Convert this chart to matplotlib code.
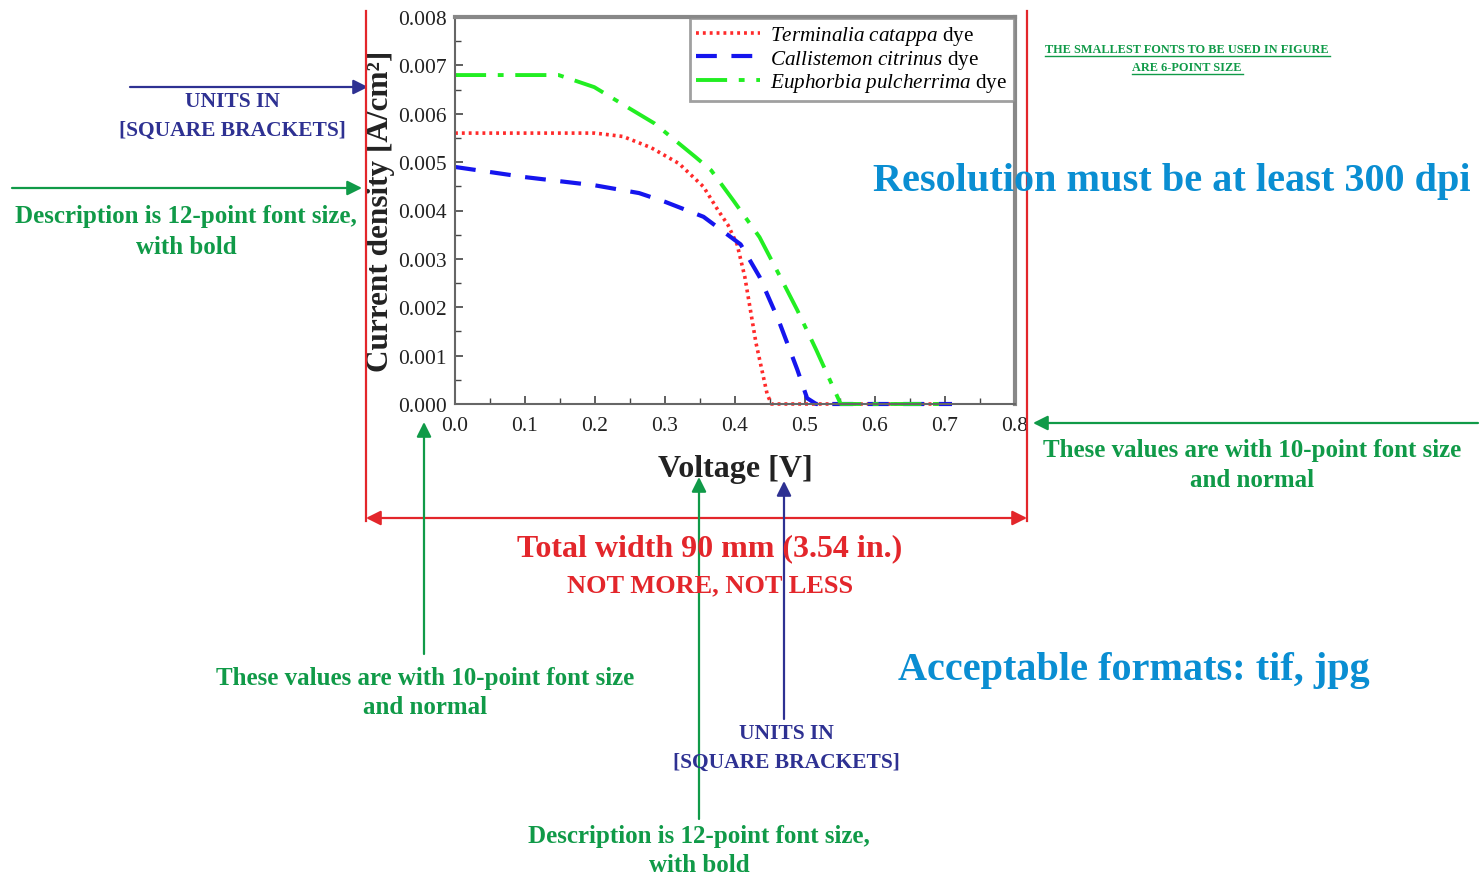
import matplotlib
matplotlib.use('Agg')
import matplotlib.pyplot as plt
from matplotlib.patches import FancyArrowPatch
from matplotlib.lines import Line2D

plt.rcParams['font.family'] = ['Liberation Serif', 'DejaVu Serif']
plt.rcParams['mathtext.fontset'] = 'custom'
plt.rcParams['mathtext.rm'] = 'Liberation Serif'
plt.rcParams['mathtext.it'] = 'Liberation Serif:italic'
plt.rcParams['mathtext.bf'] = 'Liberation Serif:bold'

# J-V curves
v_terminalia = [0.0, 0.05, 0.10, 0.15, 0.20, 0.24, 0.28, 0.32, 0.355, 0.376, 0.39, 0.403, 0.414, 0.43, 0.446, 0.452, 0.55, 0.70]
j_terminalia = [0.0056, 0.0056, 0.0056, 0.0056, 0.0056, 0.00553, 0.0053, 0.00497, 0.00449, 0.0040, 0.0037, 0.0033, 0.00263, 0.00126, 0.0002, 0.0, 0.0, 0.0]

v_callistemon = [0.0, 0.10, 0.20, 0.263, 0.30, 0.355, 0.408, 0.435, 0.462, 0.489, 0.503, 0.516, 0.60, 0.71]
j_callistemon = [0.0049, 0.00469, 0.00452, 0.00436, 0.00418, 0.00387, 0.0033, 0.00263, 0.00174, 0.00071, 0.00012, 0.0, 0.0, 0.0]

v_euphorbia = [0.0, 0.05, 0.10, 0.148, 0.199, 0.247, 0.285, 0.344, 0.366, 0.398, 0.435, 0.462, 0.489, 0.516, 0.551, 0.60, 0.70]
j_euphorbia = [0.0068, 0.0068, 0.0068, 0.0068, 0.00655, 0.00613, 0.0058, 0.0051, 0.00483, 0.0042, 0.00345, 0.0027, 0.00194, 0.00112, 0.0, 0.0, 0.0]

labels = [r'$\it{Terminalia\ catappa}$ dye',
          r'$\it{Callistemon\ citrinus}$ dye',
          r'$\it{Euphorbia\ pulcherrima}$ dye']

W, H = 1484, 879
fig = plt.figure(figsize=(W / 100, H / 100), dpi=100)

def px(x, y):
    return (x / W, 1 - y / H)

# axes box: x 455..1015, y 18..405 (pixels)
ax = fig.add_axes([455 / W, 1 - 405 / H, (1015 - 455) / W, (405 - 18) / H])

ax.plot(v_terminalia, j_terminalia, color='#ff2a2a', linestyle=(0, (0.8, 1.1)), lw=2.6, label=labels[0], clip_on=False)
ax.plot(v_callistemon, j_callistemon, color='#1515ee', linestyle=(0, (5, 3.5)), lw=3, label=labels[1], clip_on=False)
ax.plot(v_euphorbia, j_euphorbia, color='#22ee22', linestyle=(0, (8, 3, 1.5, 3)), lw=2.8, label=labels[2], clip_on=False)

ax.set_xlim(0, 0.8)
ax.set_ylim(0, 0.008)
ax.set_xticks([0.0, 0.1, 0.2, 0.3, 0.4, 0.5, 0.6, 0.7, 0.8])
ax.set_yticks([0.000, 0.001, 0.002, 0.003, 0.004, 0.005, 0.006, 0.007, 0.008])
ax.set_xticks([0.05, 0.15, 0.25, 0.35, 0.45, 0.55, 0.65, 0.75], minor=True)
ax.set_yticks([0.0005, 0.0015, 0.0025, 0.0035, 0.0045, 0.0055, 0.0065, 0.0075], minor=True)
ax.set_xticklabels(['%.1f' % t for t in ax.get_xticks()])
ax.set_yticklabels(['%.3f' % t for t in ax.get_yticks()])
ax.tick_params(which='both', direction='in', labelsize=15.5, colors='#444444', labelcolor='#222222')
ax.tick_params(which='major', length=6, width=1.2)
ax.tick_params(which='minor', length=4, width=1)
ax.tick_params(axis='x', pad=9)
ax.tick_params(axis='y', pad=6)

for side in ['left', 'bottom']:
    ax.spines[side].set_color('#666666')
    ax.spines[side].set_linewidth(1.5)
for side in ['top', 'right']:
    ax.spines[side].set_color('#888888')
    ax.spines[side].set_linewidth(3)

ax.set_xlabel('Voltage [V]', fontsize=23, fontweight='bold', color='#222222', labelpad=13)
ax.set_ylabel('Current density [A/cm²]', fontsize=22.5, fontweight='bold', color='#222222', labelpad=2)

leg = ax.legend(loc='upper right', fontsize=15.2, frameon=True, fancybox=False, handlelength=3.0,
                borderaxespad=0.05, borderpad=0.3, labelspacing=0.02, handletextpad=0.5)
leg.get_frame().set_edgecolor('#888888')
leg.get_frame().set_linewidth(2)

# annotation colours
red = '#e3262b'
navy = '#2e3192'
green = '#109a48'
blue = '#0a8ed2'

def arrow(x0, y0, x1, y1, color, style='-|>'):
    fig.add_artist(FancyArrowPatch(px(x0, y0), px(x1, y1), transform=fig.transFigure,
                                   arrowstyle=style, mutation_scale=22, color=color, lw=1.6,
                                   shrinkA=0, shrinkB=0))

def label(x, y, s, color, size, weight='bold'):
    fig.text(*px(x, y), s, color=color, fontsize=size, fontweight=weight, ha='center', va='center')

# red width markers
fig.add_artist(Line2D([366 / W, 366 / W], [1 - 12 / H, 1 - 522 / H], color=red, lw=1.6))
fig.add_artist(Line2D([1027 / W, 1027 / W], [1 - 12 / H, 1 - 522 / H], color=red, lw=1.6))
arrow(366, 519, 1027, 519, red, style='<|-|>')
label(710, 549, 'Total width 90 mm (3.54 in.)', red, 23)
label(710, 586, 'NOT MORE, NOT LESS', red, 19)

# y-axis notes
arrow(130, 88, 368, 88, navy)
label(232, 102, 'UNITS IN', navy, 15.5)
label(232, 131, '[SQUARE BRACKETS]', navy, 15.5)
arrow(12, 189, 362, 189, green)
label(186, 217, 'Description is 12-point font size,', green, 18)
label(186, 247, 'with bold', green, 18)

# x-axis notes
arrow(1478, 424, 1033, 424, green)
label(1252, 451, 'These values are with 10-point font size', green, 18)
label(1252, 481, 'and normal', green, 18)

arrow(424, 655, 424, 423, green)
label(425, 678, 'These values are with 10-point font size', green, 18)
label(425, 707, 'and normal', green, 18)

arrow(699, 820, 699, 478, green)
label(699, 837, 'Description is 12-point font size,', green, 18)
label(699, 866, 'with bold', green, 18)

arrow(784, 720, 784, 482, navy)
label(786, 734, 'UNITS IN', navy, 15.5)
label(786, 763, '[SQUARE BRACKETS]', navy, 15.5)

# general notes
label(1172, 181, 'Resolution must be at least 300 dpi', blue, 29)
label(1134, 671, 'Acceptable formats: tif, jpg', blue, 29)

label(1187, 50, 'THE SMALLEST FONTS TO BE USED IN FIGURE', green, 8.8)
label(1187, 68, 'ARE 6-POINT SIZE', green, 8.8)
fig.add_artist(Line2D([1045 / W, 1330 / W], [1 - 57 / H, 1 - 57 / H], color=green, lw=1))
fig.add_artist(Line2D([1132 / W, 1243 / W], [1 - 75 / H, 1 - 75 / H], color=green, lw=1))

fig.savefig('out.png', dpi=100)
